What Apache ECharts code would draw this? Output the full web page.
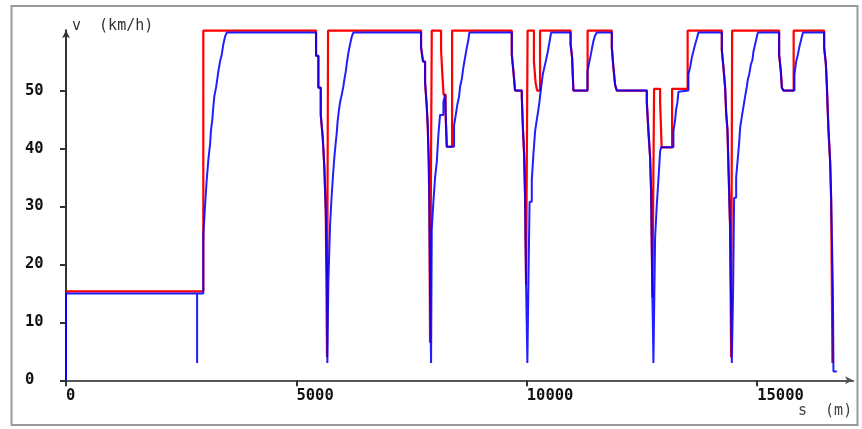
<!DOCTYPE html>
<html>
<head>
<meta charset="utf-8">
<script src="https://cdn.jsdelivr.net/npm/echarts@6/dist/echarts.min.js"></script>
<style>
html,body{margin:0;padding:0;background:#fff;}
#c{width:862px;height:429px;}
</style>
</head>
<body>
<div id="c"></div>
<script>
// distance (m) and speed (km/h) of the limit curve (red), step points
const redX = [0,2980,5427,5477,5529,5572,5607,5637,5665,5687,
  7706,7749,7793,7830,7851,7873,7886,7901,7938,
  8140,8168,8194,8238,8264,8379,
  9675,9710,9746,9892,9914,9942,9963,9985,10018,
  10155,10191,10224,10288,
  10951,10984,11012,11320,
  11846,11880,11917,11954,
  12605,12640,12677,12699,12727,12763,12894,12927,13154,13491,
  14233,14268,14305,14327,14355,14377,14413,14435,14457,
  15477,15514,15536,15570,15792,
  16454,16491,16512,16525,16547,16584,16606,16634];
const redV = [15.35,60.35,56,50.5,45.8,41.9,36.7,29.5,4,60.35,
  57.4,55,51.4,47.2,43.8,37.6,30.3,6.5,60.35,
  57,52.8,49.3,46,40.3,60.35,
  56.2,53.3,50,49,44,39,32,16.5,60.35,
  55,51.4,50,60.35,
  58,55.7,50,60.35,
  57.4,54,51,50,
  48,43,38.4,32.4,14.3,50.3,48,40.2,50.3,60.35,
  57,54,50.5,46.2,43.3,36.9,26.3,4,60.35,
  56.2,53.3,50.5,50,60.35,
  57.4,54.6,51,48,43.3,37.7,31.2,3];

// distance (m) and speed (km/h) of the driven curve (blue), step points
const blueX = [0,0,2845,2845,2845,2980,3017,3054,3089,3126,3148,3176,3197,3219,3256,3284,3306,3343,3380,3415,3451,3488,
  5427,5477,5529,5572,5607,5637,5666,5672,
  5694,5731,5763,5796,5824,5850,5876,5894,5920,5948,5985,6019,6041,6072,6093,6128,6165,6202,6236,
  7706,7749,7793,7830,7851,7873,7886,7901,7923,
  7938,7973,8010,8047,8082,8118,8190,8227,8264,
  8422,8459,8494,8531,8553,8590,8624,8661,8698,8733,8754,
  9675,9710,9746,9892,9914,9942,9963,9985,10013,
  10035,10061,10109,10144,10181,10218,10252,10274,10311,10348,10382,10419,10456,10491,10528,
  10951,10984,11012,
  11316,11359,11390,11418,11446,11483,11520,
  11846,11880,11917,11954,
  12605,12640,12677,12699,12727,12749,
  12785,12822,12857,12894,12916,
  13183,13220,13241,13270,13291,13313,
  13508,13545,13582,13617,13654,13691,13725,
  14233,14268,14305,14327,14355,14377,14413,14450,
  14479,14500,14544,14581,14609,14631,14667,14702,14739,14776,14798,14832,14863,14898,14919,14956,14993,15015,
  15477,15514,15536,15570,
  15809,15846,15883,15918,15955,15992,
  16454,16491,16512,16525,16547,16584,16606,16643,16656,16730];
const blueV = [0,15,15,3,15,25,30,34.6,38,40.7,43.3,45,47.2,49,50.5,52,53.3,55,56.2,58,59.3,60,
  56,50.5,45.8,41.9,36.7,29.5,17,3,
  17,26.8,31.5,35.5,38.5,40.7,42.7,44.6,46.4,48,49.3,50.7,51.9,53.3,54.6,56.5,58,59.3,60,
  57.4,55,51.4,47.2,43.8,37.6,30.3,15.3,3,
  26,30.8,35,37.7,42.4,45.8,48,49.3,40.3,
  44,45.8,47.6,49,50.7,52,54,55.7,57.4,58.8,60,
  56.2,53.3,50,49,44,39,32,16.5,3,
  16.5,30.8,34.6,39,43,45,46.7,48,50.5,52.8,54,55.3,56.7,58.3,60,
  58,55.7,50,
  53.3,55,56.2,57.4,58.5,59.5,60,
  57.4,54,51,50,
  48,43,38.4,32.4,14.3,3,
  24.6,30.3,34.6,39.5,40.2,
  43,45,46.7,48,49.8,50,
  52.8,54,55.7,56.8,58,59,60,
  57,54,50.5,46.2,43.3,36.9,26.3,3,
  16,31.5,35,38.4,41,43.6,45.5,47.2,49,50.7,51.9,53,54.5,55.3,56.7,58,59.3,60,
  56.2,53.3,50.5,50,
  52.8,55,56.2,57.6,58.8,60,
  57.4,54.6,51,48,43.3,37.7,31.2,16,1.5,1.5];

const xTicks = [0,5000,10000,15000];
const yTicks = [0,10,20,30,40,50];
const xName = 's  (m)';
const yName = 'v  (km/h)';

const pairs = (xs, vs) => xs.map((x, i) => [x, vs[i]]);
const FONT = 'DejaVu Sans Mono';

const chart = echarts.init(document.getElementById('c'), null, {renderer: 'canvas'});
chart.setOption({
  animation: false,
  backgroundColor: '#fff',
  grid: {left: 66, right: 9, top: 30.3, bottom: 48.7, containLabel: false},
  xAxis: {
    type: 'value', min: 0, max: 17080, interval: 5000,
    axisLine: {show: true, symbol: ['none', 'arrow'], symbolSize: [6, 8], lineStyle: {color: '#555', width: 2}},
    axisTick: {show: true, length: 6, customValues: xTicks, lineStyle: {color: '#333', width: 2}},
    axisLabel: {show: true, customValues: xTicks, align: 'left', margin: 8, color: '#111',
      fontFamily: FONT, fontWeight: 'bold', fontSize: 15.5, formatter: v => String(v)},
    splitLine: {show: false}
  },
  yAxis: {
    type: 'value', min: 0, max: 60.4, interval: 10,
    axisLine: {show: true, symbol: ['none', 'arrow'], symbolSize: [6, 8], lineStyle: {color: '#333', width: 2}},
    axisTick: {show: true, length: 6, customValues: yTicks, lineStyle: {color: '#333', width: 2}},
    axisLabel: {show: true, customValues: yTicks, align: 'left', margin: 41, color: '#111',
      fontFamily: FONT, fontWeight: 'bold', fontSize: 15.5, formatter: v => String(v)},
    splitLine: {show: false}
  },
  graphic: [
    {type: 'rect', shape: {x: 11.5, y: 6, width: 846, height: 419}, style: {fill: 'none', stroke: '#999', lineWidth: 2}, silent: true},
    {type: 'text', style: {text: yName, x: 72, y: 26, verticalAlign: 'middle', align: 'left', font: '15px "DejaVu Sans Mono"', fill: '#333'}},
    {type: 'text', style: {text: xName, x: 798, y: 411, verticalAlign: 'middle', align: 'left', font: '15px "DejaVu Sans Mono"', fill: '#444'}}
  ],
  series: [
    {type: 'line', data: pairs(redX, redV), step: 'end', showSymbol: false, clip: false,
      lineStyle: {color: '#ff0000', width: 2.2}, z: 2},
    {type: 'line', data: pairs(blueX, blueV), step: 'end', showSymbol: false, clip: false,
      lineStyle: {color: 'rgba(0,0,255,0.88)', width: 2}, z: 3}
  ]
});
</script>
</body>
</html>
